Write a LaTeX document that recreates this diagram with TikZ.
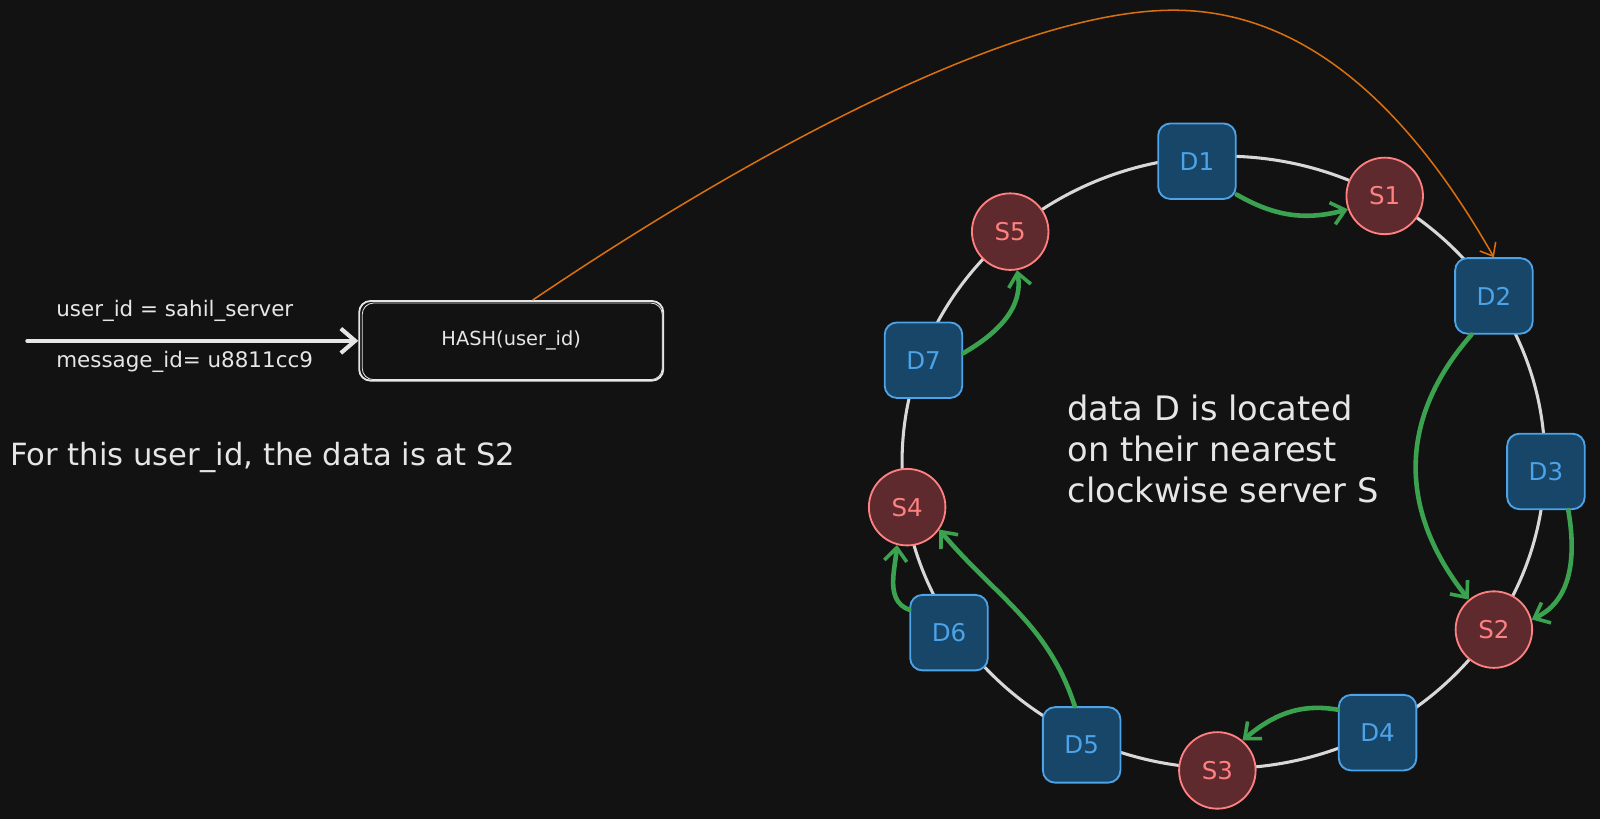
\documentclass[tikz,border=0pt]{standalone}
\usepackage{fontspec}
\setmainfont{DejaVu Sans}
\usetikzlibrary{arrows.meta}
\definecolor{bg}{HTML}{121212}
\definecolor{ringc}{HTML}{D8D8D8}
\definecolor{dfill}{HTML}{184669}
\definecolor{dline}{HTML}{4DA3E8}
\definecolor{sfill}{HTML}{5E2A2E}
\definecolor{sline}{HTML}{FF8080}
\definecolor{garrowc}{HTML}{3BA34F}
\definecolor{oarrowc}{HTML}{D9700F}
\definecolor{txt}{HTML}{E6E6E6}
\begin{document}
\begin{tikzpicture}[x=1pt,y=-1pt,
  dnode/.style={draw=dline, fill=dfill, line width=1.8pt, rounded corners=12pt,
    minimum width=76pt, minimum height=74pt, text=dline, font=\fontsize{24}{28}\selectfont},
  snode/.style={circle, draw=sline, fill=sfill, line width=1.8pt, minimum size=75pt,
    inner sep=0pt, text=sline, font=\fontsize{24}{28}\selectfont},
  garrow/.style={draw=garrowc, line width=4.5pt, line cap=round,
    -{Straight Barb[length=13pt,width=22pt,line width=3.5pt]}},
  label/.style={text=txt, inner sep=0pt},
]
\fill[bg] (0,0) rectangle (1568,803);
\useasboundingbox (0,0) rectangle (1568,803);

% ring
\draw[ringc, line width=3pt] (1199,453) ellipse [x radius=315, y radius=300];

% D nodes
\node[dnode] (D1) at (1173,158) {D1};
\node[dnode] (D2) at (1464,290) {D2};
\node[dnode] (D3) at (1515,462) {D3};
\node[dnode] (D4) at (1350,718) {D4};
\node[dnode] (D5) at (1060,730) {D5};
\node[dnode] (D6) at (930,620) {D6};
\node[dnode] (D7) at (905,353) {D7};
% S nodes
\node[snode] (S1) at (1357,192) {S1};
\node[snode] (S2) at (1464,617) {S2};
\node[snode] (S3) at (1193,755) {S3};
\node[snode] (S4) at (889,497) {S4};
\node[snode] (S5) at (990,227) {S5};

% hash box
\node[draw=txt, line width=1.8pt, rounded corners=11pt, minimum width=298pt,
  minimum height=78pt, text=txt, font=\fontsize{19}{22}\selectfont] (hash) at (501,334) {HASH(user\_id)};
\draw[txt, line width=0.8pt, rounded corners=11pt] (355,297) rectangle (649,372);

% input arrow
\coordinate (in) at (27,334);
\draw[txt, line width=4.5pt, line cap=round,
  -{Straight Barb[length=14pt,width=24pt,line width=4pt]}] (in) -- (hash.west);

% texts
\node[label, anchor=west, font=\fontsize{21}{24}\selectfont] (t1) at (55,305) {user\_id = sahil\_server};
\node[label, anchor=west, font=\fontsize{21}{24}\selectfont] (t2) at (55,355) {message\_id= u8811cc9};
\node[label, anchor=west, font=\fontsize{30}{34}\selectfont] (t3) at (10,448) {For this user\_id, the data is at S2};
\node[label, anchor=north west, align=left, font=\fontsize{33}{40}\selectfont] (t4) at (1046,387)
  {data D is located\\on their nearest\\clockwise server S};

% orange arrow
\draw[oarrowc, line width=1.5pt, -{Straight Barb[length=11pt,width=18pt,line width=1.5pt]}]
  ([xshift=21pt]hash.north) .. controls (750,140) and (1000,10) .. (1150,10)
  .. controls (1300,10) and (1400,140) .. (D2.north);

% green arrows
\draw[garrow] (D1.-40) to[out=-30,in=195] (S1.200);
\draw[garrow] (D7.10) to[out=30,in=-80] (S5.-80);
\draw[garrow] (D2.-120) .. controls (1370,410) and (1370,500) .. (S2.130);
\draw[garrow] (D3.-60) to[out=-80,in=25] (S2.15);
\draw[garrow] (D4.150) to[out=170,in=40] (S3.50);
\draw[garrow] (D5.100) to[out=108,in=-50] (S4.-35);
\draw[garrow] (D6.150) to[out=160,in=-95] (S4.-105);
\end{tikzpicture}
\end{document}
